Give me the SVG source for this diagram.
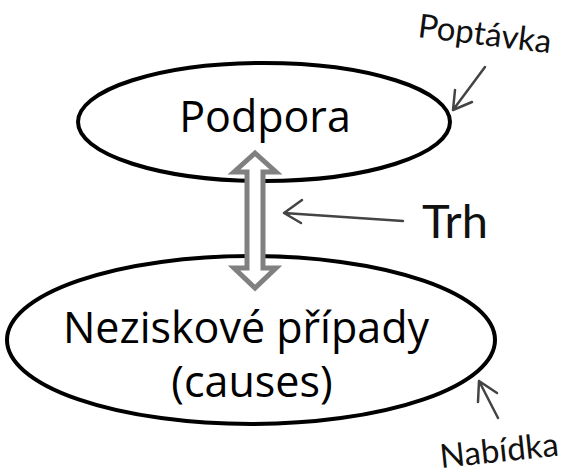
<svg xmlns="http://www.w3.org/2000/svg" width="572" height="476" viewBox="0 0 572 476">
<style>
.node{fill:#fff;stroke:#000;stroke-width:4}
.lbl{font-family:"Open Sans","Noto Sans",sans-serif;font-size:43px;fill:#000;text-anchor:middle}
.hand{font-family:"Lato","Open Sans",sans-serif;fill:#111}
.ptr{fill:none;stroke:#444;stroke-width:2.5;stroke-linecap:round;stroke-linejoin:round}
</style>
<rect width="572" height="476" fill="#fff"/>
<g id="podpora">
<ellipse class="node" cx="264" cy="122" rx="186" ry="59"/>
<text class="lbl" x="265" y="132">Podpora</text>
</g>
<g id="neziskove">
<ellipse class="node" cx="251" cy="340" rx="244" ry="84"/>
<text class="lbl" x="246" y="343">Neziskové případy</text>
<text class="lbl" x="252" y="397">(causes)</text>
</g>
<g id="connectors">
<path d="M255,153 L276,172 L263,172 L263,268 L276,268 L255,288 L234,268 L247,268 L247,172 L234,172 Z" fill="#fff" stroke="#808080" stroke-width="5" stroke-linejoin="miter"/>
<path class="ptr" d="M403,221 L284,213 M302,200 L284,213 L301,223"/>
<path class="ptr" d="M485,67 L453,110 M455,90 L453,110 L472,102"/>
<path class="ptr" d="M498,418 L479,381 M478,402 L479,381 L497,393"/>
</g>
<g id="trh">
<text class="hand" x="422" y="238" font-size="47">Trh</text>
</g>
<g id="poptavka">
<text class="hand" x="417" y="37" font-size="33" transform="rotate(7 417 37)">Poptávka</text>
</g>
<g id="nabidka">
<text class="hand" x="441" y="468" font-size="33" transform="rotate(-6 441 468)">Nabídka</text>
</g>
</svg>
